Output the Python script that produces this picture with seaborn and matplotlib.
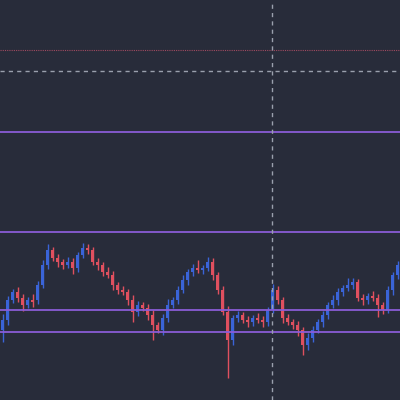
import matplotlib
matplotlib.use("Agg")
import matplotlib.pyplot as plt
import seaborn as sns
import numpy as np

# closing levels in screen units (0 = top, 400 = bottom), one per candle
closes = [320,300,292,298,305,300,300,285,265,250,258,262,265,262,268,255,248,250,262,265,
          272,275,285,290,292,300,312,305,308,315,325,330,318,305,300,290,280,272,268,270,
          268,262,275,290,312,340,318,315,320,322,318,320,322,310,290,300,318,322,325,330,
          345,338,330,322,315,305,300,292,288,285,282,298,300,296,298,305,310,290,275,265]
wick_up = [6,4,3,5,4,3,6,4,5,6,3,4,3,5,4,3,5,4,3,4,
           3,5,4,3,4,3,5,4,3,4,5,3,4,6,3,4,5,3,4,8,
           3,5,4,3,4,6,3,4,3,4,3,5,4,3,6,4,3,4,3,4,
           3,5,4,3,4,3,5,4,3,7,4,3,4,3,5,4,3,4,3,4]
wick_dn = [12,5,3,4,6,3,5,4,3,4,3,5,4,3,6,4,3,4,3,5,
           4,3,5,4,3,5,10,4,3,5,15,3,5,4,3,4,3,5,4,3,
           4,3,5,4,3,38,5,4,3,5,4,3,5,4,3,4,5,3,4,6,
           10,5,4,3,5,4,3,5,4,3,4,3,5,4,3,12,4,3,5,4]
opens = [closes[0] + 10] + closes[:-1]
hlines_purple = [132, 232, 310, 332]
hline_dotted = 50
hline_dashed = 71
vline_idx = 53.9

sns.set_theme(style="dark")
bg = "#282c3a"
fig = plt.figure(figsize=(4, 4), dpi=100, facecolor=bg)
ax = fig.add_axes([0, 0, 1, 1])
ax.set_facecolor(bg)

up_c, dn_c = "#3a64d8", "#e0505f"
x = np.arange(len(closes))
for i, (o, c, wu, wd) in enumerate(zip(opens, closes, wick_up, wick_dn)):
    col = up_c if c < o else dn_c
    top, bot = min(o, c), max(o, c)
    if bot - top < 1.5:
        bot = top + 1.5
    ax.vlines(i, top - wu, bot + wd, color=col, lw=1)
    ax.bar(i, bot - top, bottom=top, width=0.7, color=col, edgecolor=col, lw=0)

for h in hlines_purple:
    ax.axhline(h, color="#8a5cd6", lw=1.3)
ax.axhline(hline_dotted, color="#a04a60", lw=0.8, ls=(0, (1, 1)))
ax.axhline(hline_dashed, color="#9aa0ad", lw=1, ls=(0, (3, 3)))
ax.axvline(vline_idx, color="#9aa0ad", lw=1, ls=(0, (3, 3)))

ax.set_xlim(-0.5, len(closes) - 0.5)
ax.set_ylim(400, 0)
ax.set_xticks([]); ax.set_yticks([])
for s in ax.spines.values():
    s.set_visible(False)
fig.savefig("out.png", dpi=100, facecolor=bg)
